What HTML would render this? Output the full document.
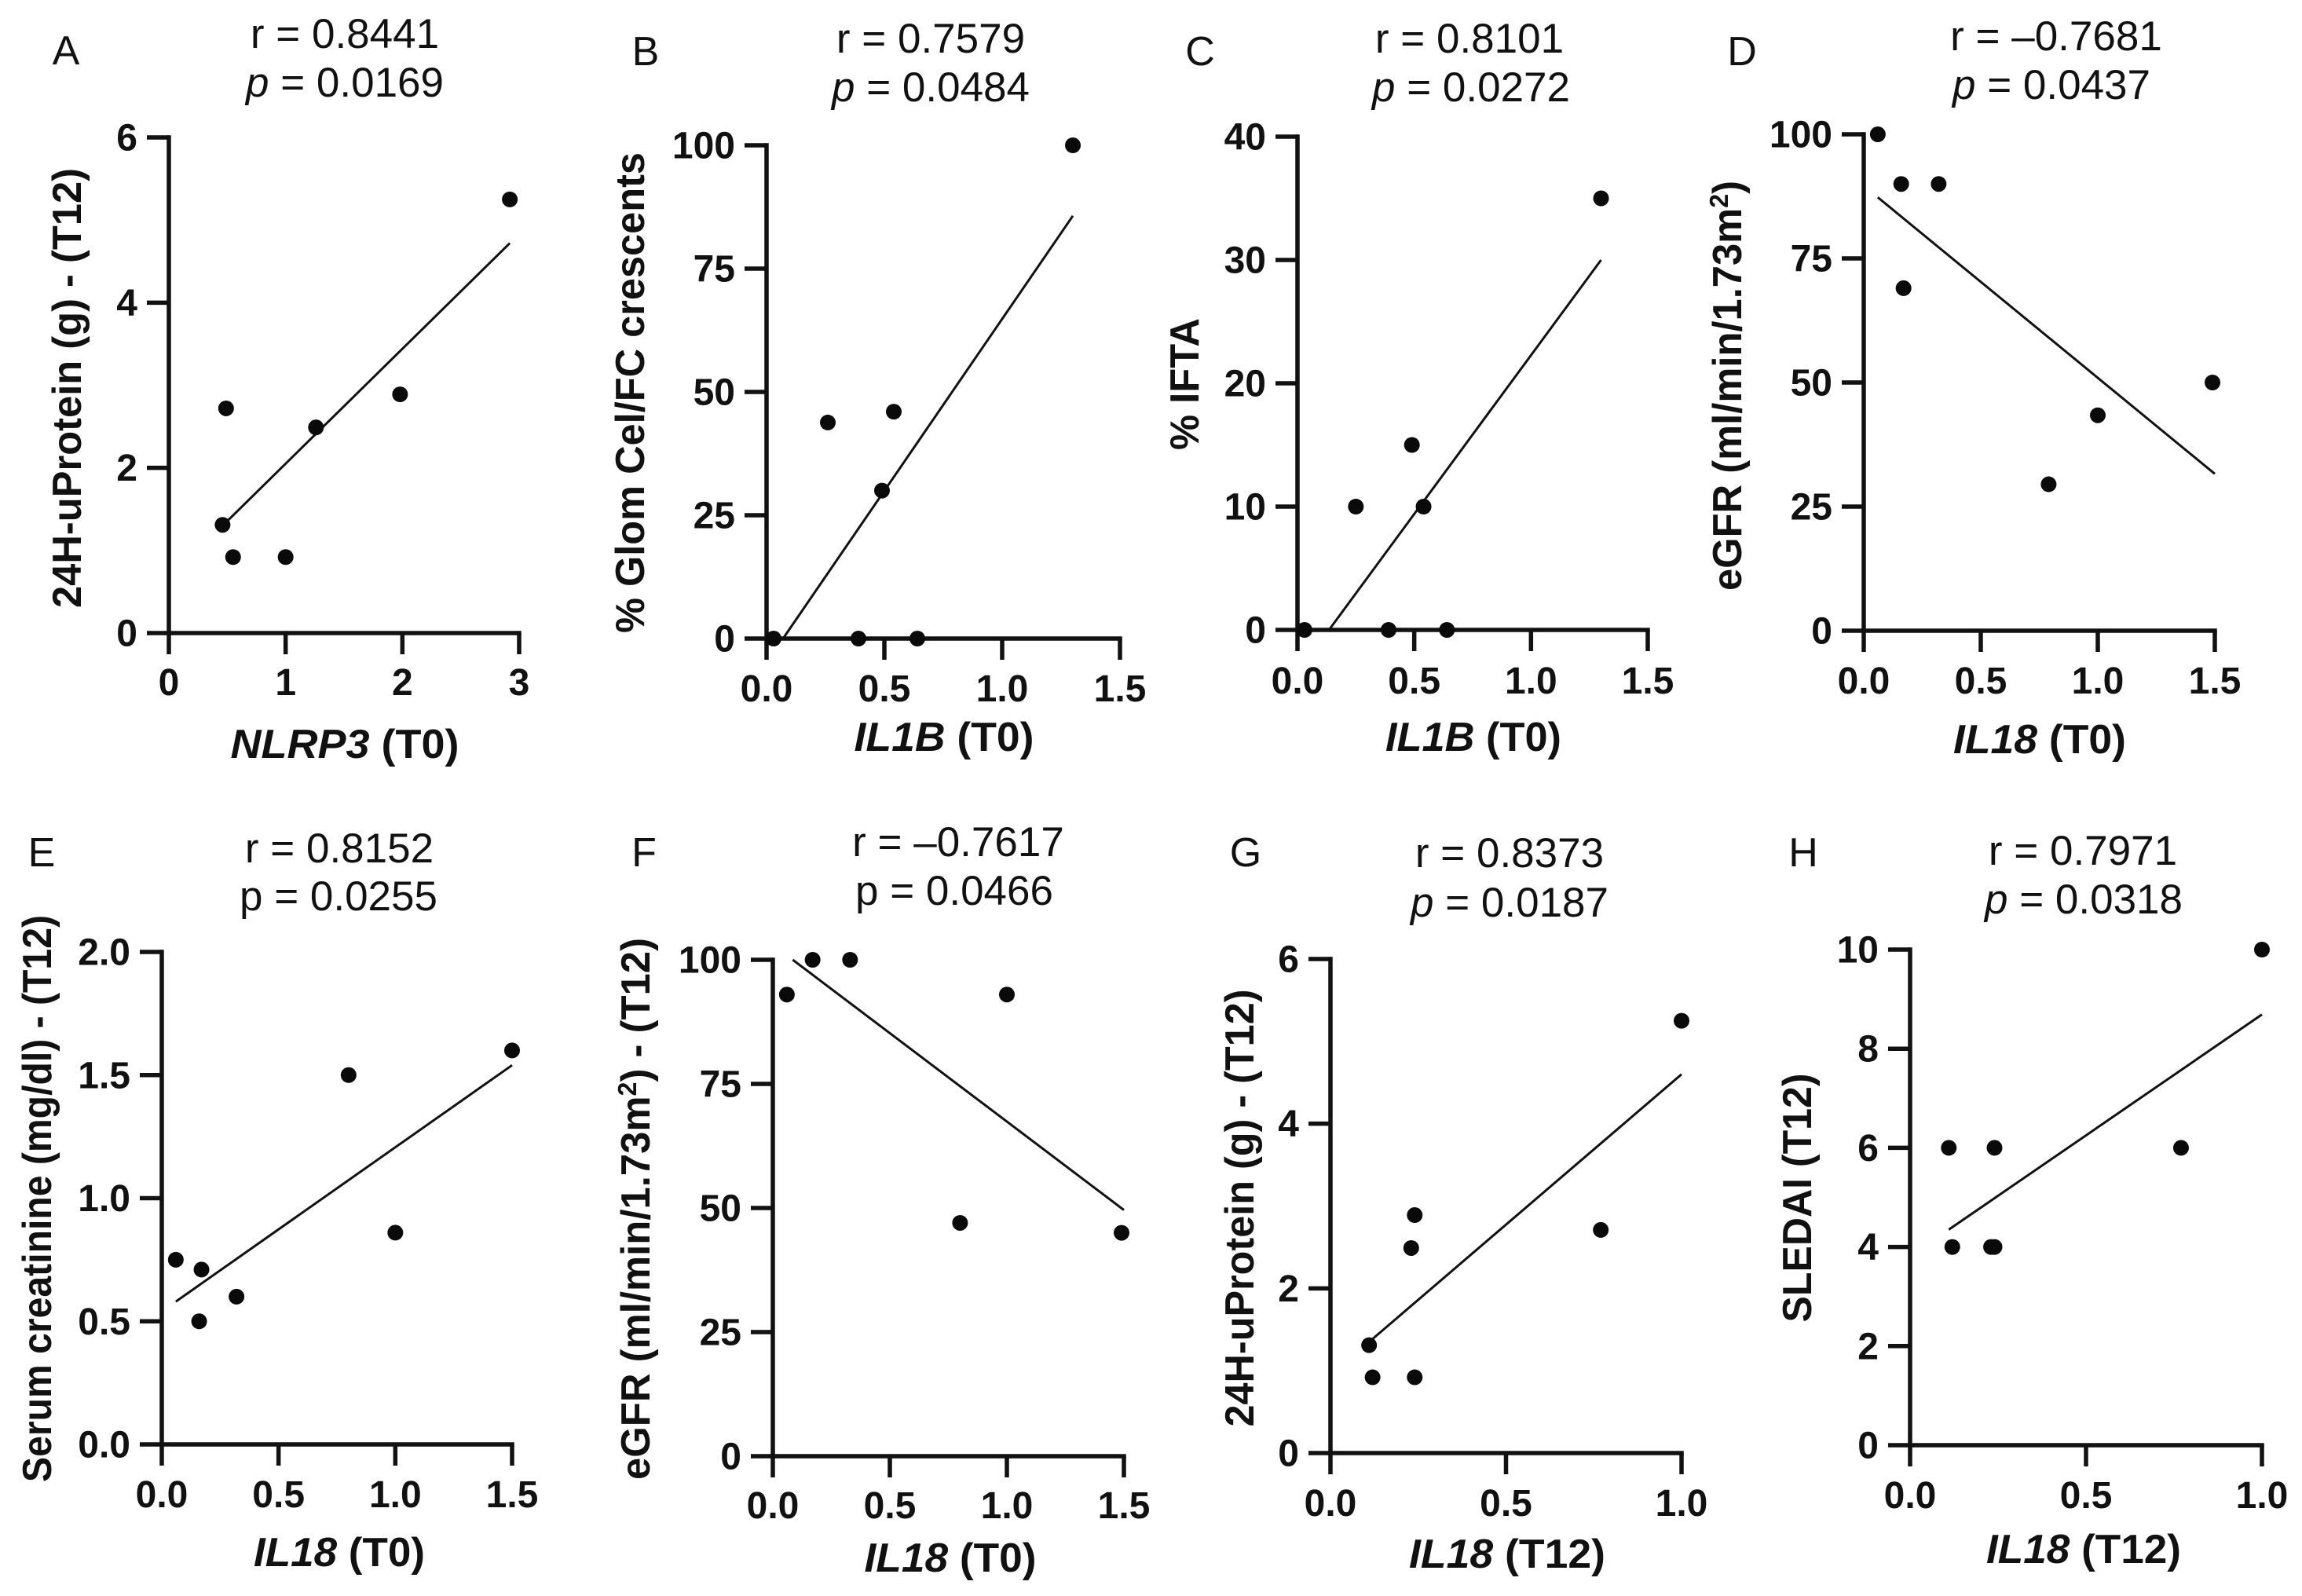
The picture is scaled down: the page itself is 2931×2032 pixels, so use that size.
<!DOCTYPE html>
<html lang="en">
<head>
<meta charset="utf-8">
<title>Correlation scatter plots</title>
<style>
html,body{margin:0;padding:0;background:#fff;width:2931px;height:2032px;overflow:hidden}
svg{display:block}
text{font-family:"Liberation Sans",sans-serif;fill:#111}
.letter{font-size:52px}
.stat{font-size:53px;text-anchor:middle}
.axt{font-size:52px;font-weight:bold;text-anchor:middle}
.tick{font-size:48px;font-weight:bold}
</style>
</head>
<body>
<svg id="figure" width="2931" height="2032" viewBox="0 0 2931 2032" xmlns="http://www.w3.org/2000/svg">
<rect width="2931" height="2032" fill="#fff"/>

<g id="panel-a">
<text class="letter" x="84" y="82" text-anchor="middle">A</text>
<text class="stat" x="439" y="61">r = 0.8441</text>
<text class="stat" x="439" y="123"><tspan font-style="italic">p</tspan> = 0.0169</text>
<text class="axt" x="439" y="965" textLength="291" lengthAdjust="spacingAndGlyphs"><tspan font-style="italic">NLRP3</tspan> (T0)</text>
<text class="axt" transform="translate(103,494) rotate(-90)" textLength="560" lengthAdjust="spacingAndGlyphs">24H-uProtein (g) - (T12)</text>
</g>

<g id="panel-b">
<text class="letter" x="822" y="83" text-anchor="middle">B</text>
<text class="stat" x="1185" y="67">r = 0.7579</text>
<text class="stat" x="1185" y="129"><tspan font-style="italic">p</tspan> = 0.0484</text>
<text class="axt" x="1202" y="956" textLength="229" lengthAdjust="spacingAndGlyphs"><tspan font-style="italic">IL1B</tspan> (T0)</text>
<text class="axt" transform="translate(820,500) rotate(-90)" textLength="612" lengthAdjust="spacingAndGlyphs">% Glom Cel/FC crescents</text>
</g>

<g id="panel-c">
<text class="letter" x="1528" y="83" text-anchor="middle">C</text>
<text class="stat" x="1871" y="67">r = 0.8101</text>
<text class="stat" x="1873" y="129"><tspan font-style="italic">p</tspan> = 0.0272</text>
<text class="axt" x="1876" y="956" textLength="224" lengthAdjust="spacingAndGlyphs"><tspan font-style="italic">IL1B</tspan> (T0)</text>
<text class="axt" transform="translate(1526,489) rotate(-90)" textLength="168" lengthAdjust="spacingAndGlyphs">% IFTA</text>
</g>

<g id="panel-d">
<text class="letter" x="2218" y="83" text-anchor="middle">D</text>
<text class="stat" x="2618" y="64">r = –0.7681</text>
<text class="stat" x="2612" y="126"><tspan font-style="italic">p</tspan> = 0.0437</text>
<text class="axt" x="2597" y="959" textLength="220" lengthAdjust="spacingAndGlyphs"><tspan font-style="italic">IL18</tspan> (T0)</text>
<text class="axt" transform="translate(2217,491) rotate(-90)" textLength="522" lengthAdjust="spacingAndGlyphs">eGFR (ml/min/1.73m<tspan dy="-17" font-size="33">2</tspan><tspan dy="17">)</tspan></text>
</g>

<g id="panel-e">
<text class="letter" x="53" y="1103" text-anchor="middle">E</text>
<text class="stat" x="432" y="1098">r = 0.8152</text>
<text class="stat" x="431" y="1159">p = 0.0255</text>
<text class="axt" x="432" y="1994" textLength="218" lengthAdjust="spacingAndGlyphs"><tspan font-style="italic">IL18</tspan> (T0)</text>
<text class="axt" transform="translate(65,1526) rotate(-90)" textLength="722" lengthAdjust="spacingAndGlyphs">Serum creatinine (mg/dl) - (T12)</text>
</g>

<g id="panel-f">
<text class="letter" x="820" y="1103" text-anchor="middle">F</text>
<text class="stat" x="1220" y="1090">r = –0.7617</text>
<text class="stat" x="1215" y="1152">p = 0.0466</text>
<text class="axt" x="1210" y="2001" textLength="219" lengthAdjust="spacingAndGlyphs"><tspan font-style="italic">IL18</tspan> (T0)</text>
<text class="axt" transform="translate(827,1539) rotate(-90)" textLength="690" lengthAdjust="spacingAndGlyphs">eGFR (ml/min/1.73m<tspan dy="-17" font-size="33">2</tspan><tspan dy="17">) - (T12)</tspan></text>
</g>

<g id="panel-g">
<text class="letter" x="1586" y="1103" text-anchor="middle">G</text>
<text class="stat" x="1922" y="1104">r = 0.8373</text>
<text class="stat" x="1922" y="1167"><tspan font-style="italic">p</tspan> = 0.0187</text>
<text class="axt" x="1919" y="1996" textLength="250" lengthAdjust="spacingAndGlyphs"><tspan font-style="italic">IL18</tspan> (T12)</text>
<text class="axt" transform="translate(1596,1538) rotate(-90)" textLength="557" lengthAdjust="spacingAndGlyphs">24H-uProtein (g) - (T12)</text>
</g>

<g id="panel-h">
<text class="letter" x="2296" y="1103" text-anchor="middle">H</text>
<text class="stat" x="2652" y="1101">r = 0.7971</text>
<text class="stat" x="2653" y="1163"><tspan font-style="italic">p</tspan> = 0.0318</text>
<text class="axt" x="2653" y="1990" textLength="248" lengthAdjust="spacingAndGlyphs"><tspan font-style="italic">IL18</tspan> (T12)</text>
<text class="axt" transform="translate(2306,1525) rotate(-90)" textLength="317" lengthAdjust="spacingAndGlyphs">SLEDAI (T12)</text>
</g>
</svg>

<script>
// Panel A
const aX = [0.46, 0.49, 0.55, 1.00, 1.26, 1.98, 2.92];
const aY = [1.31, 2.72, 0.92, 0.92, 2.49, 2.89, 5.25];
const aFitX = [0.46, 2.92];
const aFitY = [1.30, 4.72];
const aXTicks = ["0", "1", "2", "3"];
const aYTicks = ["0", "2", "4", "6"];
// Panel B
const bX = [0.03, 0.26, 0.39, 0.49, 0.54, 0.64, 1.30];
const bY = [0, 43.8, 0, 30, 46, 0, 100];
const bFitX = [0.07, 1.30];
const bFitY = [0, 85.7];
const bXTicks = ["0.0", "0.5", "1.0", "1.5"];
const bYTicks = ["0", "25", "50", "75", "100"];
// Panel C
const cX = [0.03, 0.25, 0.39, 0.49, 0.54, 0.64, 1.30];
const cY = [0, 10, 0, 15, 10, 0, 35];
const cFitX = [0.135, 1.30];
const cFitY = [0, 30];
const cXTicks = ["0.0", "0.5", "1.0", "1.5"];
const cYTicks = ["0", "10", "20", "30", "40"];
// Panel D
const dX = [0.06, 0.16, 0.17, 0.32, 0.79, 1.00, 1.49];
const dY = [100, 90, 69, 90, 29.5, 43.4, 50];
const dFitX = [0.06, 1.50];
const dFitY = [87.3, 31.6];
const dXTicks = ["0.0", "0.5", "1.0", "1.5"];
const dYTicks = ["0", "25", "50", "75", "100"];
// Panel E
const eX = [0.06, 0.16, 0.17, 0.32, 0.80, 1.00, 1.50];
const eY = [0.75, 0.50, 0.71, 0.60, 1.50, 0.86, 1.60];
const eFitX = [0.06, 1.50];
const eFitY = [0.58, 1.54];
const eXTicks = ["0.0", "0.5", "1.0", "1.5"];
const eYTicks = ["0.0", "0.5", "1.0", "1.5", "2.0"];
// Panel F
const fX = [0.06, 0.17, 0.33, 0.80, 1.00, 1.49];
const fY = [93, 100, 100, 47, 93, 45];
const fFitX = [0.085, 1.50];
const fFitY = [100, 49.6];
const fXTicks = ["0.0", "0.5", "1.0", "1.5"];
const fYTicks = ["0", "25", "50", "75", "100"];
// Panel G
const gX = [0.11, 0.12, 0.23, 0.24, 0.24, 0.77, 1.00];
const gY = [1.31, 0.92, 2.49, 2.89, 0.92, 2.71, 5.25];
const gFitX = [0.11, 1.00];
const gFitY = [1.35, 4.60];
const gXTicks = ["0.0", "0.5", "1.0"];
const gYTicks = ["0", "2", "4", "6"];
// Panel H
const hX = [0.11, 0.12, 0.24, 0.23, 0.24, 0.77, 1.00];
const hY = [6, 4, 6, 4, 4, 6, 10];
const hFitX = [0.11, 1.00];
const hFitY = [4.35, 8.69];
const hXTicks = ["0.0", "0.5", "1.0"];
const hYTicks = ["0", "2", "4", "6", "8", "10"];

const SVGNS = "http://www.w3.org/2000/svg";

function make(tag, attrs, parent) {
  const el = document.createElementNS(SVGNS, tag);
  for (const k in attrs) el.setAttribute(k, attrs[k]);
  parent.appendChild(el);
  return el;
}

function drawPanel(p) {
  const g = document.getElementById(p.id);
  const xMin = parseFloat(p.xTicks[0]);
  const xMax = parseFloat(p.xTicks[p.xTicks.length - 1]);
  const yMin = parseFloat(p.yTicks[0]);
  const yMax = parseFloat(p.yTicks[p.yTicks.length - 1]);
  const sx = v => p.left + (v - xMin) / (xMax - xMin) * (p.right - p.left);
  const sy = v => p.bottom - (v - yMin) / (yMax - yMin) * (p.bottom - p.top);
  const W = 5.5;

  const xAxis = make("line", {x1: p.left - W / 2, x2: p.right + W / 2, y1: p.bottom, y2: p.bottom, stroke: "#111", "stroke-width": W}, g);
  
  
  const yAxis = make("line", {x1: p.left, x2: p.left, y1: p.top - W / 2, y2: p.bottom + W / 2, stroke: "#111", "stroke-width": W}, g);
  
  

  p.xTicks.forEach(t => {
    const v = parseFloat(t);
    const tick = make("line", {x1: sx(v), x2: sx(v), y1: p.bottom, y2: p.bottom + 27, stroke: "#111", "stroke-width": W}, g);
    
    
    const label = make("text", {x: sx(v), y: p.xLabelY, "text-anchor": "middle", "class": "tick"}, g);
    label.textContent = t;
    
    
  });

  p.yTicks.forEach(t => {
    const v = parseFloat(t);
    const tick = make("line", {x1: p.left - 28, x2: p.left, y1: sy(v), y2: sy(v), stroke: "#111", "stroke-width": W}, g);
    
    
    const label = make("text", {x: p.left - 40, y: sy(v) + 16.5, "text-anchor": "end", "class": "tick"}, g);
    label.textContent = t;
    
    
  });

  const fit = make("line", {x1: sx(p.fitX[0]), y1: sy(p.fitY[0]), x2: sx(p.fitX[1]), y2: sy(p.fitY[1]), stroke: "#111", "stroke-width": 3}, g);
  
  

  p.xs.forEach((x, i) => {
    const dot = make("circle", {cx: sx(x), cy: sy(p.ys[i]), r: 10, fill: "#0a0a0a"}, g);
    
    
  });
}

const panels = [
  {id: "panel-a", left: 215, right: 661, bottom: 806, top: 175, xLabelY: 885, xs: aX, ys: aY, fitX: aFitX, fitY: aFitY, xTicks: aXTicks, yTicks: aYTicks},
  {id: "panel-b", left: 976, right: 1426, bottom: 813, top: 185, xLabelY: 893, xs: bX, ys: bY, fitX: bFitX, fitY: bFitY, xTicks: bXTicks, yTicks: bYTicks},
  {id: "panel-c", left: 1652, right: 2098, bottom: 802, top: 174, xLabelY: 883, xs: cX, ys: cY, fitX: cFitX, fitY: cFitY, xTicks: cXTicks, yTicks: cYTicks},
  {id: "panel-d", left: 2373, right: 2820, bottom: 803, top: 171, xLabelY: 883, xs: dX, ys: dY, fitX: dFitX, fitY: dFitY, xTicks: dXTicks, yTicks: dYTicks},
  {id: "panel-e", left: 206, right: 652, bottom: 1839, top: 1212, xLabelY: 1919, xs: eX, ys: eY, fitX: eFitX, fitY: eFitY, xTicks: eXTicks, yTicks: eYTicks},
  {id: "panel-f", left: 984, right: 1431, bottom: 1854, top: 1222, xLabelY: 1933, xs: fX, ys: fY, fitX: fFitX, fitY: fFitY, xTicks: fXTicks, yTicks: fYTicks},
  {id: "panel-g", left: 1694, right: 2141, bottom: 1850, top: 1221, xLabelY: 1930, xs: gX, ys: gY, fitX: gFitX, fitY: gFitY, xTicks: gXTicks, yTicks: gYTicks},
  {id: "panel-h", left: 2432, right: 2880, bottom: 1840, top: 1209, xLabelY: 1920, xs: hX, ys: hY, fitX: hFitX, fitY: hFitY, xTicks: hXTicks, yTicks: hYTicks}
];

panels.forEach(drawPanel);
</script>
</body>
</html>
